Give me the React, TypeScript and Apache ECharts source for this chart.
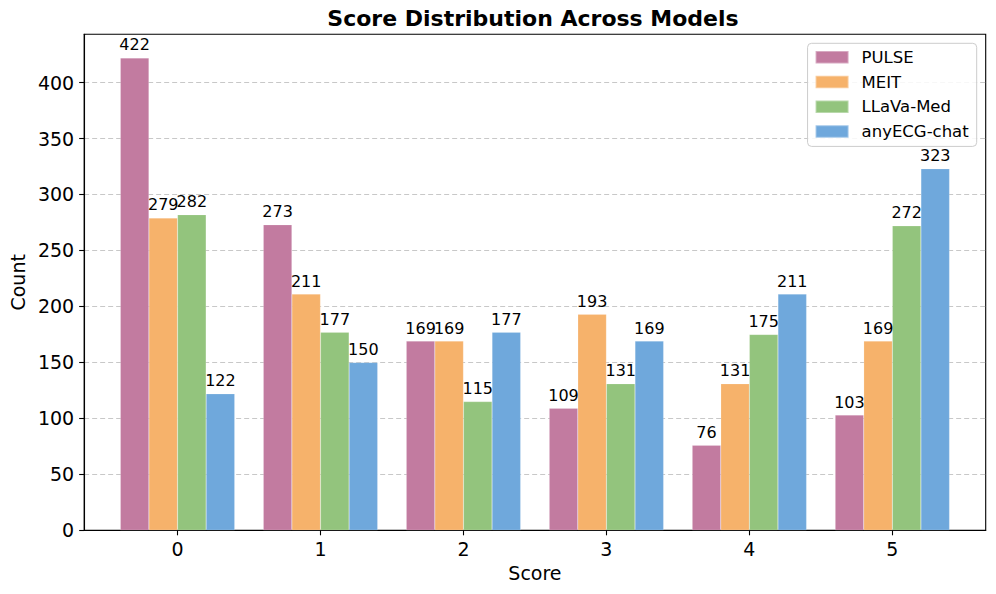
import React, { useEffect, useRef } from "react";
import * as echarts from "echarts";

const categories = ["0", "1", "2", "3", "4", "5"];
const seriesNames = ["PULSE", "MEIT", "LLaVa-Med", "anyECG-chat"];
const pulse = [422, 273, 169, 109, 76, 103];
const meit = [279, 211, 169, 193, 131, 169];
const llava = [282, 177, 115, 131, 175, 272];
const anyecg = [122, 150, 177, 169, 211, 323];
const yTicks = [0, 50, 100, 150, 200, 250, 300, 350, 400];
const colors = ["#C27BA0", "#F6B26B", "#93C47D", "#6FA8DC"];

const FONT = "DejaVu Sans";

export default function App() {
  const ref = useRef<HTMLDivElement>(null);
  useEffect(() => {
    document.body.style.margin = "0";
    if (!ref.current) return;
    const chart = echarts.init(ref.current, undefined, { renderer: "svg" });
    const W = 996;
    const gridLeft = 81.3;
    const gridRight = 10.3;
    const xMin = -0.653;
    const xMax = 5.653;
    const plotW = W - gridLeft - gridRight;
    const barW = (0.2 * plotW) / (xMax - xMin);
    const all = [pulse, meit, llava, anyecg];
    const offsets = [-0.3, -0.1, 0.1, 0.3];
    const catIdx = categories.map((_, i) => i);
    chart.setOption({
      animation: false,
      textStyle: { fontFamily: FONT },
      graphic: [
        {
          type: "text",
          x: 533,
          y: 18,
          style: {
            text: "Score Distribution Across Models",
            font: `bold 22px "${FONT}"`,
            fill: "#000",
            align: "center",
            verticalAlign: "middle",
          },
        },
      ],
      legend: {
        orient: "vertical",
        right: 19.3,
        top: 43.3,
        data: seriesNames,
        itemWidth: 33,
        itemHeight: 12.5,
        itemGap: 4.7,
        padding: [4, 8, 5, 7],
        backgroundColor: "rgba(255,255,255,0.85)",
        borderColor: "#cccccc",
        borderWidth: 1,
        borderRadius: 4,
        icon: "rect",
        textStyle: {
          fontFamily: FONT,
          fontSize: 16.5,
          color: "#000",
          lineHeight: 20,
          padding: [0, 0, 0, 8],
        },
      },
      grid: {
        left: gridLeft,
        right: gridRight,
        top: 34.3,
        bottom: 63.7,
        show: true,
        borderColor: "#000",
        borderWidth: 1.1,
        backgroundColor: "transparent",
      },
      xAxis: {
        type: "value",
        min: xMin,
        max: xMax,
        name: "Score",
        nameLocation: "middle",
        nameGap: 33,
        nameTextStyle: { fontFamily: FONT, fontSize: 19, color: "#000" },
        axisLine: { show: true, onZero: false, lineStyle: { color: "#000", width: 1.1 } },
        axisTick: {
          show: true,
          length: 5,
          lineStyle: { color: "#000", width: 1.1 },
          customValues: catIdx,
        },
        axisLabel: {
          fontFamily: FONT,
          fontSize: 19,
          color: "#000",
          margin: 9,
          customValues: catIdx,
          formatter: (v: number) => categories[Math.round(v)] ?? "",
        },
        splitLine: { show: false },
      },
      yAxis: {
        type: "value",
        min: 0,
        max: 443.1,
        interval: 50,
        name: "Count",
        nameLocation: "middle",
        nameGap: 52,
        nameTextStyle: { fontFamily: FONT, fontSize: 19, color: "#000" },
        axisLine: { show: true, onZero: false, lineStyle: { color: "#000", width: 1.1 } },
        axisTick: {
          show: true,
          length: 5,
          lineStyle: { color: "#000", width: 1.1 },
          customValues: yTicks,
        },
        axisLabel: {
          fontFamily: FONT,
          fontSize: 19,
          color: "#000",
          margin: 10,
          customValues: yTicks,
          formatter: (v: number) => (v % 50 === 0 ? String(v) : ""),
        },
        splitLine: {
          show: true,
          lineStyle: { color: "#c8c8c8", width: 1, type: [5, 3] },
        },
      },
      series: all.map((vals, i) => ({
        name: seriesNames[i],
        type: "bar",
        barWidth: barW,
        barGap: "-100%",
        data: vals.map((v, j) => [j + offsets[i], v]),
        itemStyle: {
          color: colors[i],
          borderColor: "rgba(255,255,255,0.35)",
          borderWidth: 0.5,
        },
        label: {
          show: true,
          position: "top",
          distance: 5,
          fontFamily: FONT,
          fontSize: 16,
          color: "#000",
          formatter: (p: any) => String(p.value[1]),
        },
      })),
    });
    return () => chart.dispose();
  }, []);
  return <div ref={ref} style={{ width: 996, height: 594 }} />;
}
